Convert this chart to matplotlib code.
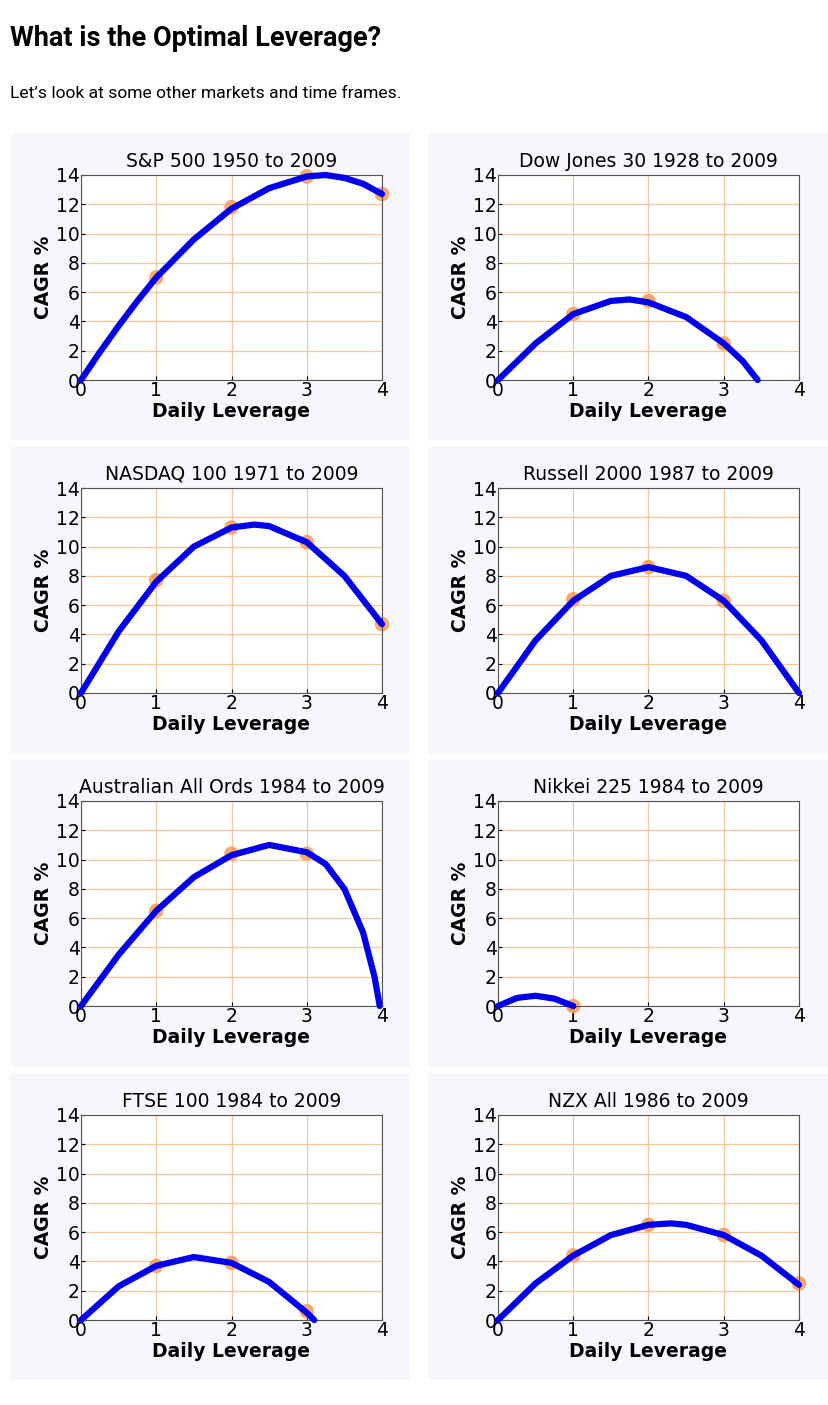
import matplotlib
matplotlib.use("Agg")
import matplotlib.pyplot as plt
from matplotlib.patches import Rectangle

W, H = 829, 1405

titles = ["S&P 500 1950 to 2009", "Dow Jones 30 1928 to 2009",
          "NASDAQ 100 1971 to 2009", "Russell 2000 1987 to 2009",
          "Australian All Ords 1984 to 2009", "Nikkei 225 1984 to 2009",
          "FTSE 100 1984 to 2009", "NZX All 1986 to 2009"]

# curve readings (leverage, CAGR %)
curve_x = [
    [0, .25, .5, .75, 1, 1.5, 2, 2.5, 3, 3.25, 3.5, 3.75, 4],
    [0, .5, 1, 1.5, 1.75, 2, 2.5, 3, 3.25, 3.45],
    [0, .5, 1, 1.5, 2, 2.3, 2.5, 3, 3.5, 4],
    [0, .5, 1, 1.5, 2, 2.5, 3, 3.5, 4],
    [0, .5, 1, 1.5, 2, 2.5, 3, 3.25, 3.5, 3.75, 3.9, 3.97],
    [0, .25, .5, .75, 1],
    [0, .5, 1, 1.5, 2, 2.5, 3, 3.1],
    [0, .5, 1, 1.5, 2, 2.3, 2.5, 3, 3.5, 4],
]
curve_y = [
    [0, 1.9, 3.7, 5.4, 7.0, 9.6, 11.7, 13.1, 13.9, 14.0, 13.8, 13.4, 12.7],
    [0, 2.5, 4.5, 5.4, 5.5, 5.3, 4.3, 2.5, 1.3, 0],
    [0, 4.2, 7.6, 10.0, 11.3, 11.5, 11.4, 10.3, 8.0, 4.7],
    [0, 3.6, 6.3, 8.0, 8.6, 8.0, 6.3, 3.6, 0],
    [0, 3.5, 6.5, 8.8, 10.3, 11.0, 10.5, 9.7, 8.0, 5.0, 2.0, 0],
    [0, 0.55, 0.7, 0.5, 0],
    [0, 2.3, 3.7, 4.3, 3.9, 2.6, 0.5, 0],
    [0, 2.5, 4.4, 5.8, 6.5, 6.6, 6.5, 5.8, 4.4, 2.4],
]
dot_x = [[1, 2, 3, 4], [1, 2, 3], [1, 2, 3, 4], [1, 2, 3],
         [1, 2, 3], [1], [1, 2, 3], [1, 2, 3, 4]]
dot_y = [[7.0, 11.8, 13.9, 12.7], [4.5, 5.4, 2.5], [7.7, 11.3, 10.3, 4.7],
         [6.4, 8.6, 6.3], [6.5, 10.4, 10.4], [0.0], [3.7, 3.9, 0.6],
         [4.4, 6.5, 5.8, 2.5]]

fig = plt.figure(figsize=(W / 100, H / 100), dpi=100)
fig.patch.set_facecolor("white")

fig.text(10 / W, 1 - 38 / H, "What is the Optimal Leverage?", fontsize=19.5,
         fontweight="bold", family="Roboto", va="center")
fig.text(10 / W, 1 - 93 / H, "Let\u2019s look at some other markets and time frames.",
         fontsize=12.6, family="Roboto", va="center")

panel_left = [10, 428]
panel_top = [133, 447, 760, 1073]
ax_left = [81, 498]
ax_top = [175, 488, 801, 1115]
ax_w, ax_h = 301, 205

for i in range(8):
    r, c = divmod(i, 2)
    fig.add_artist(Rectangle((panel_left[c] / W, 1 - (panel_top[r] + 307) / H),
                             400 / W, 307 / H, transform=fig.transFigure,
                             facecolor="#f6f7fd", edgecolor="none", zorder=-5))
    ax = fig.add_axes([ax_left[c] / W, 1 - (ax_top[r] + ax_h) / H, ax_w / W, ax_h / H])
    ax.set_xlim(0, 4)
    ax.set_ylim(0, 14)
    ax.set_xticks(range(5))
    ax.set_yticks(range(0, 15, 2))
    ax.grid(True, color="#f5c79a", linewidth=0.9)
    ax.set_axisbelow(True)
    ax.plot(curve_x[i], curve_y[i], color="#0000ee", linewidth=4.5,
            solid_capstyle="round", solid_joinstyle="round", clip_on=False, zorder=3)
    ax.scatter(dot_x[i], dot_y[i], s=110, color="#f7a05a", alpha=0.9,
               clip_on=False, zorder=2, edgecolors="none")
    ax.set_title(titles[i], fontsize=13.5, pad=6)
    ax.set_xlabel("Daily Leverage", fontsize=13.5, fontweight="bold", labelpad=1)
    ax.set_ylabel("CAGR %", fontsize=13.5, fontweight="bold", labelpad=2)
    ax.tick_params(labelsize=13.5, length=3, pad=1, direction="in")
    for s in ax.spines.values():
        s.set_color("#555555")
        s.set_linewidth(0.8)

fig.savefig("out.png", dpi=100)
